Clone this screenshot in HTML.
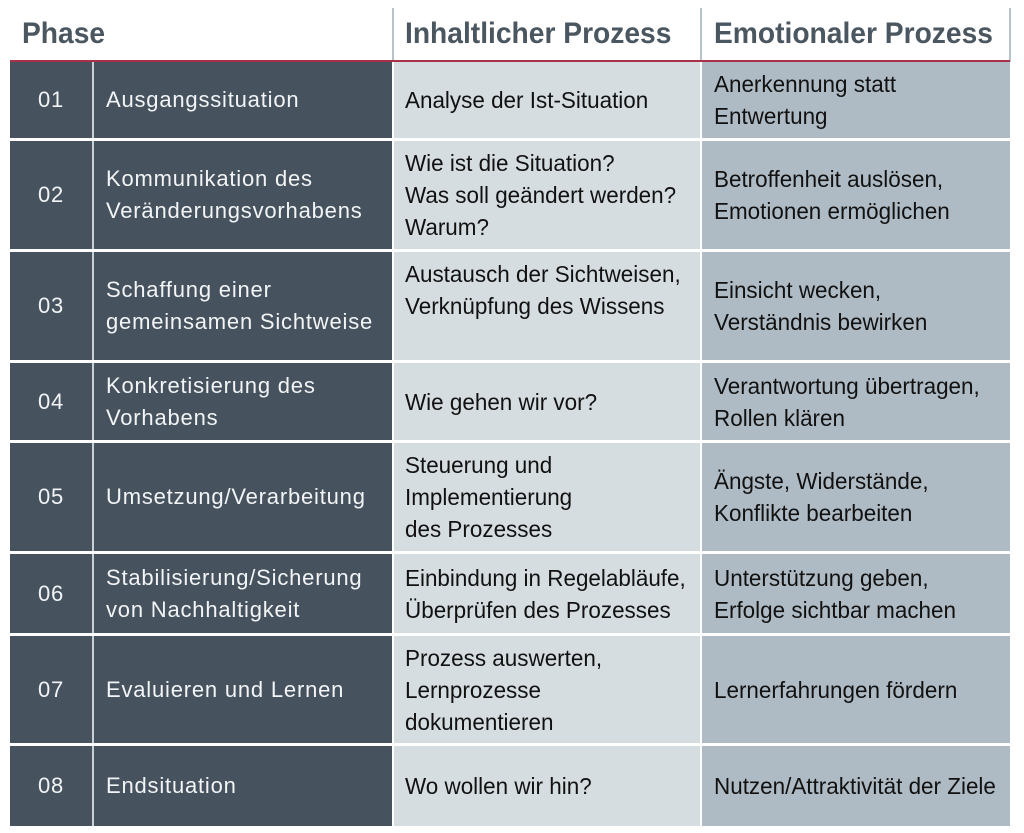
<!DOCTYPE html>
<html><head><meta charset="utf-8"><style>
body{margin:0;width:1024px;height:833px;background:#fff;position:relative;overflow:hidden;font-family:"Liberation Sans",sans-serif}
.h{position:absolute;top:17px;font-weight:bold;font-size:30px;color:#4a5660;white-space:nowrap;transform:scaleX(.94);transform-origin:left}
.vl{position:absolute;top:8px;height:54px;width:2px;background:#b8c2ca}
.red{position:absolute;left:10px;top:60px;width:1000px;height:2px;background:#a8314a}
.c{position:absolute;display:flex;align-items:center;box-sizing:border-box;white-space:nowrap}
.c span{display:inline-block;transform:scaleX(.955);transform-origin:left;line-height:32px;font-size:23.5px}
.n{background:#46535f;color:#f2f4f5;justify-content:center}
.l{background:#46535f;color:#f2f4f5;padding-left:96px}
.m{background:#d6dde1;color:#111;padding-left:11px}
.r{background:#afbbc4;color:#111;padding-left:12px}
.n span,.l span{font-size:22px;letter-spacing:.8px;transform:none}
</style></head><body>
<div class="h" style="left:22px">Phase</div>
<div class="h" style="left:405px">Inhaltlicher Prozess</div>
<div class="h" style="left:714px">Emotionaler Prozess</div>
<div class="vl" style="left:392px"></div>
<div class="vl" style="left:700px"></div>
<div class="vl" style="left:1009px"></div>
<div class="red"></div>
<div id="t"></div>
<script>
const rows=[[62,138,"01","Ausgangssituation","Analyse der Ist-Situation","Anerkennung statt<br>Entwertung"],
[141,249,"02","Kommunikation des<br>Veränderungsvorhabens","Wie ist die Situation?<br>Was soll geändert werden?<br>Warum?","Betroffenheit auslösen,<br>Emotionen ermöglichen"],
[252,360,"03","Schaffung einer<br>gemeinsamen Sichtweise","Austausch der Sichtweisen,<br>Verknüpfung des Wissens<br>&nbsp;","Einsicht wecken,<br>Verständnis bewirken"],
[363,440,"04","Konkretisierung des<br>Vorhabens","Wie gehen wir vor?","Verantwortung übertragen,<br>Rollen klären"],
[443,551,"05","Umsetzung/Verarbeitung","Steuerung und<br>Implementierung<br>des Prozesses","Ängste, Widerstände,<br>Konflikte bearbeiten"],
[554,633,"06","Stabilisierung/Sicherung<br>von Nachhaltigkeit","Einbindung in Regelabläufe,<br>Überprüfen des Prozesses","Unterstützung geben,<br>Erfolge sichtbar machen"],
[636,743,"07","Evaluieren und Lernen","Prozess auswerten,<br>Lernprozesse<br>dokumentieren","Lernerfahrungen fördern"],
[746,826,"08","Endsituation","Wo wollen wir hin?","Nutzen/Attraktivität der Ziele"]];
let h="";
for(const [t,b,n,l,m,r] of rows){const H=b-t;
h+=`<div class="c l" style="left:10px;top:${t}px;width:382px;height:${H}px"><span>${l}</span></div>`;
h+=`<div class="c n" style="left:10px;top:${t}px;width:82px;height:${H}px"><span>${n}</span></div>`;
h+=`<div style="position:absolute;left:92px;top:${t}px;width:2px;height:${H}px;background:#c9d0d5"></div>`;
h+=`<div class="c m" style="left:394px;top:${t}px;width:306px;height:${H}px"><span>${m}</span></div>`;
h+=`<div class="c r" style="left:702px;top:${t}px;width:308px;height:${H}px"><span>${r}</span></div>`;}
document.getElementById("t").innerHTML=h;
</script>
</body></html>
